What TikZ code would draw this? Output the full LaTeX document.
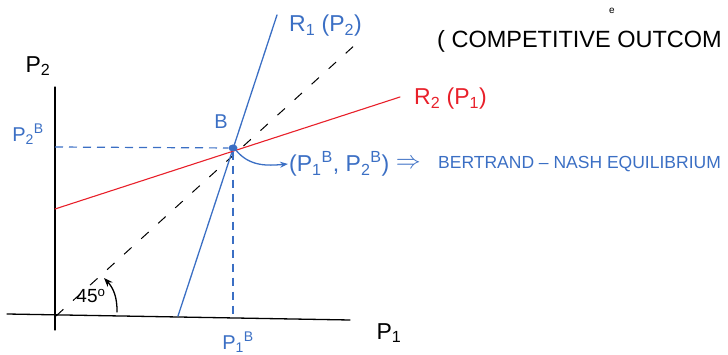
\documentclass[tikz,border=0pt]{standalone}
\usepackage{fontspec}
\setsansfont{Liberation Sans}
\usepackage{tikz}
\usetikzlibrary{positioning, arrows.meta, shapes.geometric}

\definecolor{penblue}{HTML}{3B6FC4}
\definecolor{penred}{HTML}{E8202A}

\begin{document}
\begin{tikzpicture}[x=1pt, y=-1pt,
  font=\sffamily,
  pen/.style={line width=1.3pt, line cap=round},
  axis/.style={pen, draw=black},
  guide/.style={line width=1.2pt, draw=penblue, dash pattern=on 8pt off 6pt},
  diag/.style={line width=1pt, draw=black, dash pattern=on 10pt off 13pt},
  lbl/.style={inner sep=1pt, font=\sffamily\fontsize{20}{22}\selectfont},
  big/.style={inner sep=1pt, font=\sffamily\fontsize{23}{26}\selectfont},
]
  \useasboundingbox (0,0) rectangle (728,355);

  % axes
  \coordinate (xlo) at (7,314);
  \coordinate (xhi) at (350,320);
  \coordinate (ylo) at (55,330);
  \coordinate (yhi) at (55,87);
  \coordinate (O)   at (56,316);
  \draw[axis] (xlo) -- (xhi);
  \draw[axis] (ylo) -- (yhi);
  \node[big] (p1ax) at (389,333) {P\textsubscript{1}};
  \node[big] (p2ax) at (38,66)  {P\textsubscript{2}};

  % 45 degree line
  \coordinate (dg) at (356,44);
  \draw[diag] (O) -- (dg);
  \node[lbl, font=\sffamily\fontsize{19}{21}\selectfont] (deg) at (91,296) {45\textsuperscript{o}};
  \coordinate (alo) at (117,312);
  \coordinate (ahi) at (104,278);
  \draw[pen, -{Stealth[length=9pt]}] (alo) to[bend right=22] (ahi);

  % reaction functions
  \coordinate (r1lo) at (178,316);
  \coordinate (r1hi) at (277,15);
  \coordinate (r2lo) at (55,209);
  \coordinate (r2hi) at (400,97);
  \draw[pen, draw=penblue] (r1lo) -- (r1hi);
  \draw[pen, draw=penred, line width=1.1pt] (r2lo) -- (r2hi);
  \node[big, text=penblue, anchor=west] (r1) at (288,26)  {R\textsubscript{1} (P\textsubscript{2})};
  \node[big, text=penred,  anchor=west] (r2) at (413,99)  {R\textsubscript{2} (P\textsubscript{1})};

  % equilibrium
  \node[ellipse, fill=penblue, minimum width=9pt, minimum height=7pt, inner sep=0pt] (B) at (233,148) {};
  \node[lbl, text=penblue] (Blbl) at (221,122) {B};
  \coordinate (p2t) at (55,147);
  \coordinate (p1t) at (233,318);
  \draw[guide] (p2t) -- (B);
  \draw[guide] (B) -- (p1t);
  \node[lbl, text=penblue] (p2B) at (28,134)  {P\textsubscript{2}\textsuperscript{B}};
  \node[lbl, text=penblue] (p1B) at (238,342) {P\textsubscript{1}\textsuperscript{B}};

  \node[big, text=penblue, anchor=west] (pair) at (288,164)
    {(P\textsubscript{1}\textsuperscript{B}, P\textsubscript{2}\textsuperscript{B})};
  \node[big, text=penblue, right=4pt of pair] (impl) {$\Rightarrow$};
  \node[lbl, text=penblue, font=\sffamily\fontsize{17.5}{20}\selectfont, anchor=west] (bn) at (437,164) {BERTRAND -- NASH EQUILIBRIUM};
  \draw[pen, draw=penblue, -{Stealth[length=8pt]}] (B.south east) to[out=-50, in=185] (pair.west);

  % note at the top
  \node[big, font=\sffamily\fontsize{23.5}{27}\selectfont, anchor=west] (comp) at (436,41) {( COMPETITIVE OUTCOM};
  \node[inner sep=0pt, font=\sffamily\fontsize{10}{12}\selectfont] (mark) at (612,11) {e};
\end{tikzpicture}
\end{document}
